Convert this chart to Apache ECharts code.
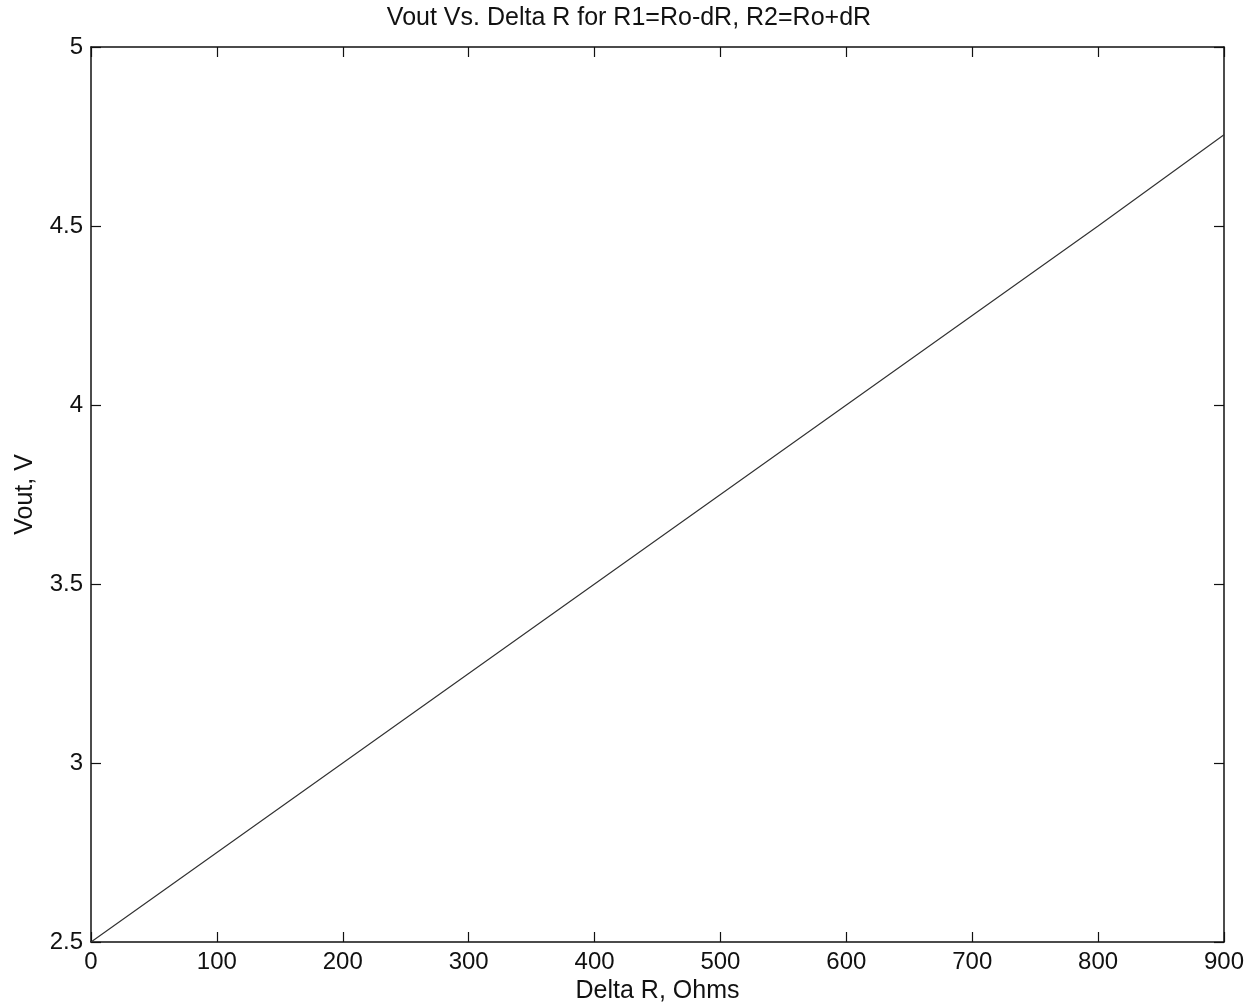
<!DOCTYPE html>
<html>
<head>
<meta charset="utf-8">
<script src="https://cdn.jsdelivr.net/npm/echarts@6/dist/echarts.min.js"></script>
<style>
html,body{margin:0;padding:0;background:#fff;}
#c{width:1258px;height:1005px;}
</style>
</head>
<body>
<div id="c"></div>
<script>
var deltaR = [0, 100, 200, 300, 400, 500, 600, 700, 800, 900];
var vout = [2.5, 2.75, 3.0, 3.25, 3.5, 3.75, 4.0, 4.25, 4.5, 4.755];
var xTicks = [0, 100, 200, 300, 400, 500, 600, 700, 800, 900];
var yTicks = [2.5, 3, 3.5, 4, 4.5, 5];

var FONT = '"Liberation Sans", Arial, Helvetica, sans-serif';
var chart = echarts.init(document.getElementById('c'));
var pts = deltaR.map(function (x, i) { return [x, vout[i]]; });

var baseX = {
  type: 'value', min: 0, max: 900, interval: 100,
  axisLine: { show: true, onZero: false, lineStyle: { color: '#111', width: 1.5 } },
  axisTick: { show: true, inside: true, length: 10, lineStyle: { color: '#111', width: 1.2 } },
  splitLine: { show: false }
};
var baseY = {
  type: 'value', min: 2.5, max: 5, interval: 0.5,
  axisLine: { show: true, onZero: false, lineStyle: { color: '#111', width: 1.5 } },
  axisTick: { show: true, inside: true, length: 10, lineStyle: { color: '#111', width: 1.2 } },
  splitLine: { show: false }
};

chart.setOption({
  animation: false,
  backgroundColor: '#fff',
  title: {
    text: 'Vout Vs. Delta R for R1=Ro-dR, R2=Ro+dR',
    left: 'center', top: 1,
    textStyle: { fontFamily: FONT, fontSize: 25, fontWeight: 'normal', color: '#111' }
  },
  grid: { left: 91, right: 34, top: 47, bottom: 63, containLabel: false, outerBoundsMode: 'none' },
  xAxis: [
    Object.assign({}, baseX, {
      position: 'bottom',
      name: 'Delta R, Ohms', nameLocation: 'middle', nameGap: 36,
      nameTextStyle: { fontFamily: FONT, fontSize: 25, color: '#111' },
      axisLabel: { show: true, fontFamily: FONT, fontSize: 24, color: '#111', margin: 8,
        formatter: function (v) { return String(v); } }
    }),
    Object.assign({}, baseX, { position: 'top', axisLabel: { show: false } })
  ],
  yAxis: [
    Object.assign({}, baseY, {
      position: 'left',
      name: 'Vout, V', nameLocation: 'middle', nameGap: 53, nameRotate: 90,
      nameTextStyle: { fontFamily: FONT, fontSize: 25, color: '#111' },
      axisLabel: { show: true, fontFamily: FONT, fontSize: 24, color: '#111', margin: 8,
        formatter: function (v) { return String(v); } }
    }),
    Object.assign({}, baseY, { position: 'right', axisLabel: { show: false } })
  ],
  series: [{
    type: 'line',
    data: pts,
    xAxisIndex: 0, yAxisIndex: 0,
    showSymbol: false,
    lineStyle: { color: '#333', width: 1.2 }
  }]
});
</script>
</body>
</html>
